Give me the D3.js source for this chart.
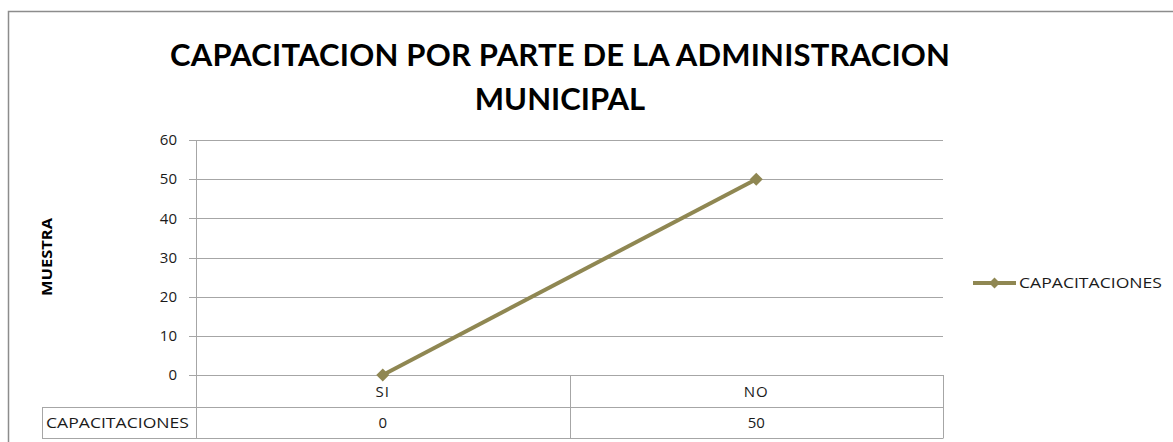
<!DOCTYPE html>
<html>
<head>
<meta charset="utf-8">
<script src="https://cdn.jsdelivr.net/npm/d3@7"></script>
<style>
  body { margin: 0; background: #fff; }
  svg { display: block; font-family: "Open Sans", "DejaVu Sans", sans-serif; }
</style>
</head>
<body>
<svg width="1173" height="442"></svg>
<script>
const categories = ["SI", "NO"];
const seriesName = "CAPACITACIONES";
const values = [0, 50];
const yTicks = [0, 10, 20, 30, 40, 50, 60];
const titleLines = ["CAPACITACION POR PARTE DE LA ADMINISTRACION", "MUNICIPAL"];
const yTitle = "MUESTRA";

const svg = d3.select("svg");
const lineColor = "#8f8752";
const gridColor = "#a6a6a6";
const textColor = "#1a1a1a";

// chart frame
svg.append("path")
    .attr("d", "M8.5,442 V11.5 H1173")
    .attr("fill", "none")
    .attr("stroke", "#8c8c8c")
    .attr("stroke-width", 1.5);

// title
svg.selectAll(".title")
    .data(titleLines)
    .enter().append("text")
    .attr("class", "title")
    .attr("x", 560)
    .attr("y", (d, i) => 66 + i * 44)
    .attr("text-anchor", "middle")
    .style("font-family", "Lato, 'Open Sans', sans-serif")
    .style("font-weight", "bold")
    .style("font-size", "31px")
    .attr("textLength", (d, i) => i === 0 ? 780 : null)
    .text(d => d);

const x = d3.scaleBand().domain(categories).range([196, 943]);
const y = d3.scaleLinear().domain([0, 60]).range([375, 140]);

// gridlines
svg.append("g")
    .selectAll("line")
    .data(yTicks)
    .enter().append("line")
    .attr("x1", 189)
    .attr("x2", 943)
    .attr("y1", d => Math.round(y(d)) + 0.5)
    .attr("y2", d => Math.round(y(d)) + 0.5)
    .attr("stroke", gridColor)
    .attr("stroke-width", 1);

// y axis line
svg.append("line")
    .attr("x1", 196.5).attr("x2", 196.5)
    .attr("y1", y(60)).attr("y2", 438)
    .attr("stroke", gridColor);

// tick labels
svg.append("g")
    .selectAll("text")
    .data(yTicks)
    .enter().append("text")
    .attr("x", 177)
    .attr("y", d => y(d))
    .attr("dy", "0.35em")
    .attr("text-anchor", "end")
    .style("font-size", "15px")
    .attr("fill", textColor)
    .text(d => d);

// y axis title
svg.append("text")
    .attr("transform", "translate(52,257) rotate(-90)")
    .attr("text-anchor", "middle")
    .style("font-weight", "bold")
    .style("font-size", "14px")
    .attr("textLength", 78)
    .attr("lengthAdjust", "spacingAndGlyphs")
    .text(yTitle);

// data table
const tbl = svg.append("g").attr("fill", "none").attr("stroke", gridColor);
tbl.append("line").attr("x1", 196).attr("x2", 943).attr("y1", 375.5).attr("y2", 375.5);
tbl.append("line").attr("x1", 42).attr("x2", 943).attr("y1", 407.5).attr("y2", 407.5);
tbl.append("line").attr("x1", 42).attr("x2", 943).attr("y1", 438.5).attr("y2", 438.5);
tbl.append("line").attr("x1", 42.5).attr("x2", 42.5).attr("y1", 407.5).attr("y2", 438.5);
categories.forEach(c => {
    tbl.append("line")
        .attr("x1", Math.round(x(c) + x.bandwidth()) + 0.5)
        .attr("x2", Math.round(x(c) + x.bandwidth()) + 0.5)
        .attr("y1", 375).attr("y2", 438.5);
});

svg.append("g")
    .selectAll("text")
    .data(categories)
    .enter().append("text")
    .attr("x", d => x(d) + x.bandwidth() / 2)
    .attr("y", 392)
    .attr("dy", "0.35em")
    .attr("text-anchor", "middle")
    .style("font-size", "15px")
    .style("letter-spacing", "1px")
    .attr("fill", textColor)
    .text(d => d);

svg.append("g")
    .selectAll("text")
    .data(values)
    .enter().append("text")
    .attr("x", (d, i) => x(categories[i]) + x.bandwidth() / 2)
    .attr("y", 423)
    .attr("dy", "0.35em")
    .attr("text-anchor", "middle")
    .style("font-size", "15px")
    .attr("fill", textColor)
    .text(d => d);

svg.append("text")
    .attr("x", 46)
    .attr("y", 423)
    .attr("dy", "0.35em")
    .style("font-size", "15px")
    .attr("textLength", 143)
    .attr("lengthAdjust", "spacingAndGlyphs")
    .attr("fill", textColor)
    .text(seriesName);

// series line
const pts = values.map((v, i) => [x(categories[i]) + x.bandwidth() / 2, y(v)]);
svg.append("path")
    .datum(pts)
    .attr("d", d3.line())
    .attr("fill", "none")
    .attr("stroke", lineColor)
    .attr("stroke-width", 4);

const diamond = s => "M0," + (-s) + "L" + s + ",0L0," + s + "L" + (-s) + ",0Z";
svg.append("g")
    .selectAll("path")
    .data(pts)
    .enter().append("path")
    .attr("transform", d => "translate(" + d[0] + "," + d[1] + ")")
    .attr("d", diamond(6.5))
    .attr("fill", lineColor);

// legend
const lg = svg.append("g").attr("transform", "translate(973,283)");
lg.append("line").attr("x1", 0).attr("x2", 43).attr("stroke", lineColor).attr("stroke-width", 4);
lg.append("path").attr("transform", "translate(21.5,0)").attr("d", diamond(5.5)).attr("fill", lineColor);
lg.append("text")
    .attr("x", 46)
    .attr("dy", "0.35em")
    .style("font-size", "15px")
    .attr("textLength", 143)
    .attr("lengthAdjust", "spacingAndGlyphs")
    .attr("fill", textColor)
    .text(seriesName);
</script>
</body>
</html>
